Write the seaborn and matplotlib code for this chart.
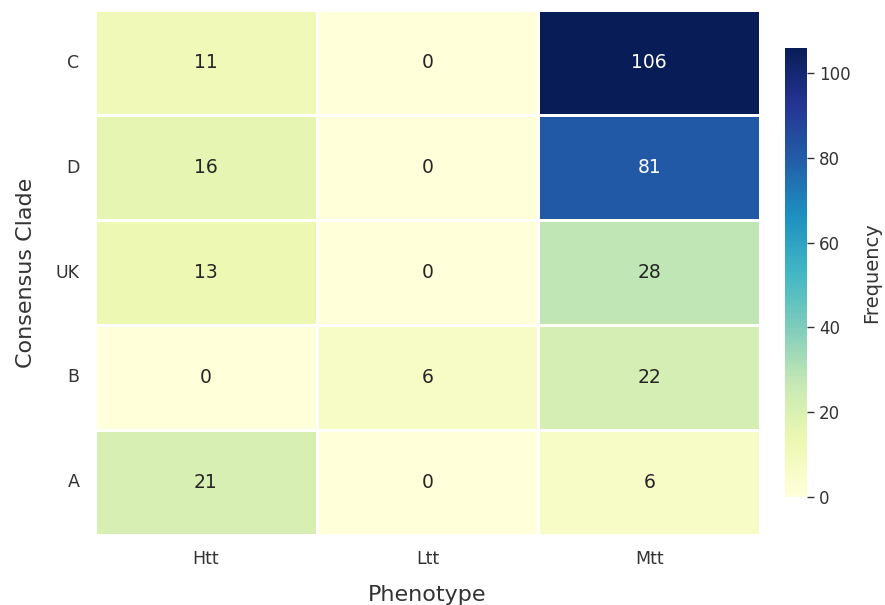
import numpy as np
import pandas as pd
import matplotlib
matplotlib.use("Agg")
import matplotlib.pyplot as plt
import seaborn as sns

clades = ["C", "D", "UK", "B", "A"]
phenotypes = ["Htt", "Ltt", "Mtt"]
htt = [11, 16, 13, 0, 21]
ltt = [0, 0, 0, 6, 0]
mtt = [106, 81, 28, 22, 6]

counts = pd.DataFrame({"Htt": htt, "Ltt": ltt, "Mtt": mtt}, index=clades)[phenotypes]

sns.set_theme(style="white")
text_color = "#333333"
plt.rcParams.update({"text.color": text_color, "axes.labelcolor": text_color,
                     "xtick.color": text_color, "ytick.color": text_color})

fig = plt.figure(figsize=(8.85, 6.05), dpi=100)
ax = fig.add_axes([0.107, 0.116, 0.752, 0.867])
cax = fig.add_axes([0.887, 0.179, 0.025, 0.742])

sns.heatmap(counts, annot=True, fmt="d", cmap="YlGnBu", linewidths=2, linecolor="white",
            ax=ax, cbar_ax=cax, cbar_kws={"label": "Frequency"},
            annot_kws={"fontsize": 13.5})

ax.set_xlabel("Phenotype", fontsize=16, labelpad=12)
ax.set_ylabel("Consensus Clade", fontsize=16, labelpad=14)
ax.tick_params(axis="both", length=0, labelsize=12.5, pad=11)
ax.set_yticklabels(ax.get_yticklabels(), rotation=0)
cax.tick_params(labelsize=12, length=5, width=1, colors=text_color)
cax.yaxis.label.set_size(14)
cax.yaxis.labelpad = 8

fig.savefig("out.png", dpi=100)
